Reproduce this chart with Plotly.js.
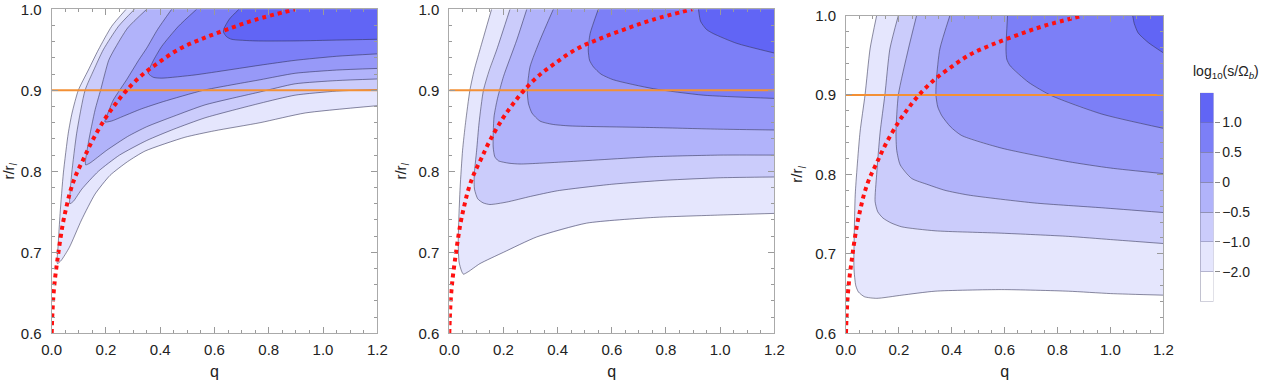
<!DOCTYPE html>
<html><head><meta charset="utf-8">
<script src="https://cdn.plot.ly/plotly-3.0.1.min.js"></script>
<style>html,body{margin:0;padding:0;background:#fff}#chart{width:1270px;height:385px}</style>
</head><body><div id="chart"></div>
<script>
// contour levels and band colours (white below lowest level)
const levels = [-2.0, -1.0, -0.5, 0, 0.5, 1.0];
const levelLabels = ['\u22122.0', '\u22121.0', '\u22120.5', '0', '0.5', '1.0'];
const bandColors = ['#ffffff', '#e5e6fd', '#cbccfb', '#b1b3fa', '#9799f8', '#7c7ff7', '#6165f5'];

// Panel 1 contour lines, points [q, r] from top edge to right edge
const p1_m20 = [[0.274,1.0],[0.221,0.979],[0.172,0.95],[0.135,0.925],[0.098,0.9],[0.075,0.872],[0.061,0.847],[0.043,0.798],[0.031,0.748],[0.024,0.71],[0.021,0.686],[0.035,0.69],[0.065,0.706],[0.11,0.74],[0.16,0.772],[0.215,0.795],[0.28,0.812],[0.344,0.825],[0.491,0.842],[0.6,0.85],[0.768,0.86],[0.934,0.872],[1.2,0.881]];
const p1_m10 = [[0.305,1.0],[0.246,0.979],[0.19,0.95],[0.155,0.925],[0.123,0.9],[0.092,0.847],[0.074,0.798],[0.068,0.775],[0.067,0.76],[0.08,0.763],[0.111,0.778],[0.172,0.8],[0.25,0.82],[0.35,0.838],[0.45,0.852],[0.565,0.866],[0.768,0.884],[0.897,0.894],[1.05,0.899],[1.2,0.901]];
const p1_m05 = [[0.35,1.0],[0.28,0.977],[0.23,0.95],[0.21,0.937],[0.18,0.9],[0.16,0.876],[0.135,0.835],[0.125,0.808],[0.14,0.81],[0.203,0.826],[0.28,0.843],[0.35,0.855],[0.45,0.868],[0.565,0.882],[0.768,0.898],[0.897,0.908],[1.05,0.912],[1.2,0.914]];
const p1_p00 = [[0.442,1.0],[0.39,0.975],[0.35,0.952],[0.32,0.937],[0.276,0.913],[0.25,0.9],[0.227,0.888],[0.205,0.87],[0.196,0.861],[0.22,0.862],[0.264,0.868],[0.33,0.877],[0.411,0.886],[0.559,0.9],[0.768,0.913],[0.897,0.921],[1.05,0.925],[1.2,0.927]];
const p1_p05 = [[0.534,1.0],[0.467,0.979],[0.405,0.954],[0.372,0.935],[0.356,0.921],[0.375,0.916],[0.405,0.915],[0.528,0.919],[0.65,0.925],[0.768,0.931],[0.897,0.937],[1.05,0.942],[1.2,0.945]];
const p1_p10 = [[0.69,1.0],[0.655,0.988],[0.636,0.977],[0.633,0.972],[0.645,0.966],[0.663,0.963],[0.75,0.961],[0.9,0.961],[1.05,0.962],[1.2,0.963]];

// Panel 2
const p2_m20 = [[0.156,1.0],[0.113,0.95],[0.092,0.925],[0.076,0.9],[0.06,0.86],[0.049,0.826],[0.04,0.78],[0.035,0.74],[0.033,0.71],[0.036,0.688],[0.045,0.677],[0.052,0.673],[0.07,0.676],[0.113,0.686],[0.2,0.7],[0.323,0.719],[0.507,0.736],[0.753,0.743],[1.0,0.746],[1.2,0.748]];
const p2_m10 = [[0.224,1.0],[0.175,0.95],[0.148,0.925],[0.126,0.9],[0.11,0.86],[0.101,0.826],[0.092,0.795],[0.093,0.778],[0.105,0.766],[0.125,0.761],[0.15,0.759],[0.212,0.762],[0.3,0.769],[0.4,0.776],[0.6,0.784],[0.8,0.789],[1.0,0.792],[1.2,0.793]];
const p2_m05 = [[0.286,1.0],[0.249,0.962],[0.2,0.917],[0.178,0.89],[0.165,0.867],[0.162,0.83],[0.168,0.818],[0.181,0.813],[0.22,0.81],[0.261,0.809],[0.446,0.812],[0.753,0.818],[1.0,0.82],[1.2,0.82]];
const p2_p00 = [[0.384,1.0],[0.335,0.962],[0.298,0.929],[0.288,0.9],[0.292,0.884],[0.305,0.872],[0.335,0.862],[0.38,0.858],[0.446,0.856],[0.753,0.854],[1.0,0.852],[1.2,0.851]];
const p2_p05 = [[0.55,1.0],[0.52,0.97],[0.513,0.95],[0.518,0.937],[0.532,0.929],[0.56,0.92],[0.606,0.913],[0.753,0.902],[0.938,0.894],[1.2,0.89]];
const p2_p10 = [[0.92,1.0],[0.928,0.985],[0.95,0.975],[0.975,0.97],[1.061,0.958],[1.2,0.946]];

// Panel 3
const p3_m20 = [[0.116,1.0],[0.091,0.958],[0.072,0.9],[0.053,0.853],[0.035,0.775],[0.031,0.72],[0.03,0.682],[0.037,0.66],[0.047,0.652],[0.07,0.646],[0.116,0.644],[0.211,0.648],[0.337,0.653],[0.589,0.655],[0.841,0.653],[1.0,0.65],[1.2,0.648]];
const p3_m10 = [[0.198,1.0],[0.166,0.958],[0.147,0.9],[0.129,0.853],[0.116,0.8],[0.11,0.766],[0.12,0.753],[0.14,0.745],[0.17,0.739],[0.211,0.734],[0.337,0.729],[0.589,0.726],[0.841,0.722],[1.0,0.718],[1.2,0.713]];
const p3_m05 = [[0.267,1.0],[0.236,0.958],[0.198,0.9],[0.189,0.853],[0.192,0.83],[0.205,0.812],[0.248,0.795],[0.311,0.787],[0.374,0.78],[0.463,0.774],[0.714,0.764],[0.967,0.758],[1.2,0.752]];
const p3_p00 = [[0.393,1.0],[0.355,0.958],[0.342,0.92],[0.34,0.9],[0.347,0.885],[0.362,0.874],[0.395,0.86],[0.437,0.849],[0.589,0.833],[0.841,0.816],[1.0,0.808],[1.2,0.801]];
const p3_p05 = [[0.611,1.0],[0.605,0.958],[0.608,0.945],[0.62,0.937],[0.69,0.916],[0.778,0.899],[0.967,0.876],[1.2,0.858]];
const p3_p10 = [[1.084,1.0],[1.09,0.99],[1.105,0.978],[1.143,0.966],[1.2,0.953]];

// red dotted curve (same in all panels)
const redQ = [0,0.002,0.006,0.012,0.02,0.03,0.042,0.055,0.07,0.09,0.117,0.15,0.197,0.235,0.276,0.33,0.393,0.47,0.55,0.645,0.75,0.897];
const redR = [0.6,0.62,0.645,0.667,0.688,0.712,0.737,0.757,0.777,0.796,0.815,0.838,0.865,0.883,0.9,0.918,0.934,0.951,0.963,0.975,0.987,1.0];
// orange reference line
const refR = 0.9;

const qRange = [0, 1.2];
const rRange = [0.6, 1.0];

const panels = [
  [p1_m20, p1_m10, p1_m05, p1_p00, p1_p05, p1_p10],
  [p2_m20, p2_m10, p2_m05, p2_p00, p2_p05, p2_p10],
  [p3_m20, p3_m10, p3_m05, p3_p00, p3_p05, p3_p10]
];

const traces = [];
const font = 'Liberation Sans, Arial, sans-serif';
panels.forEach((curves, i) => {
  const xa = 'x' + (i === 0 ? '' : i + 1);
  const ya = 'y' + (i === 0 ? '' : i + 1);
  // filled regions (value above each level), closed through the top-right corner
  curves.forEach((c, j) => {
    traces.push({
      type: 'scatter', mode: 'lines', xaxis: xa, yaxis: ya,
      x: c.map(p => p[0]).concat([qRange[1]]),
      y: c.map(p => p[1]).concat([rRange[1]]),
      fill: 'toself', fillcolor: bandColors[j + 1],
      line: {width: 0}, hoverinfo: 'skip', showlegend: false
    });
  });
  // contour lines
  curves.forEach((c, j) => {
    traces.push({
      type: 'scatter', mode: 'lines', xaxis: xa, yaxis: ya,
      x: c.map(p => p[0]), y: c.map(p => p[1]),
      line: {width: 1, color: 'rgba(45,45,80,0.55)', shape: 'spline', smoothing: 0.6},
      hoverinfo: 'skip', showlegend: false
    });
  });
  traces.push({
    type: 'scatter', mode: 'lines', xaxis: xa, yaxis: ya,
    x: qRange, y: [refR, refR],
    line: {width: 2, color: '#f39035'}, hoverinfo: 'skip', showlegend: false
  });
  traces.push({
    type: 'scatter', mode: 'lines', xaxis: xa, yaxis: ya,
    x: redQ, y: redR,
    line: {width: 4, color: '#ff1010', dash: 'dot', shape: 'spline'}, hoverinfo: 'skip', showlegend: false
  });
});

// colour bar as stacked bar on its own axes
bandColors.forEach((col, k) => {
  traces.push({
    type: 'bar', xaxis: 'x4', yaxis: 'y4', x: [0], y: [1], width: 1,
    marker: {color: col, line: {width: 1, color: 'rgba(120,120,150,0.45)'}},
    hoverinfo: 'skip', showlegend: false
  });
});

function xAxis(domain, anchor) {
  return {
    domain: domain, anchor: anchor, range: qRange, tick0: 0, dtick: 0.2, tickformat: '.1f',
    ticks: 'inside', ticklen: 6, tickcolor: '#9a9a9a', showline: true, linecolor: '#aaaaaa', linewidth: 1,
    mirror: 'allticks', showgrid: false, zeroline: false,
    minor: {dtick: 0.05, ticks: 'inside', ticklen: 3, tickcolor: '#9a9a9a'},
    tickfont: {family: font, size: 15, color: '#222'}, ticklabelstandoff: 3,
    title: {text: 'q', font: {family: font, size: 16, color: '#222'}, standoff: 8}
  };
}
function yAxis(domain, anchor) {
  return {
    domain: domain, anchor: anchor, range: rRange, tick0: 0.6, dtick: 0.1, tickformat: '.1f',
    ticks: 'inside', ticklen: 6, tickcolor: '#9a9a9a', showline: true, linecolor: '#aaaaaa', linewidth: 1,
    mirror: 'allticks', showgrid: false, zeroline: false,
    minor: {dtick: 0.02, ticks: 'inside', ticklen: 3, tickcolor: '#9a9a9a'},
    tickfont: {family: font, size: 15, color: '#222'}, ticklabelstandoff: 6,
    title: {text: 'r/r<sub><i>l</i></sub>', font: {family: font, size: 15, color: '#222'}, standoff: 8}
  };
}

const W = 1270, H = 385;
const fx = px => px / W;
const fy = py => (H - py) / H;

const layout = {
  width: W, height: H, margin: {l: 0, r: 0, t: 0, b: 0},
  paper_bgcolor: '#fff', plot_bgcolor: '#fff', showlegend: false, barmode: 'stack',
  xaxis: xAxis([fx(51.7), fx(377.3)], 'y'),
  yaxis: yAxis([fy(333.3), fy(9.3)], 'x'),
  xaxis2: xAxis([fx(449.3), fx(774.3)], 'y2'),
  yaxis2: yAxis([fy(333.3), fy(9.3)], 'x2'),
  xaxis3: xAxis([fx(846), fx(1163.3)], 'y3'),
  yaxis3: yAxis([fy(333.3), fy(15.5)], 'x3'),
  xaxis4: {domain: [fx(1200), fx(1213.5)], anchor: 'y4', range: [-0.5, 0.5], visible: false, fixedrange: true},
  yaxis4: {domain: [fy(301.7), fy(92.7)], anchor: 'x4', side: 'right', range: [0, bandColors.length],
    tickvals: levels.map((v, k) => k + 1), ticktext: levelLabels, ticks: 'outside', ticklen: 5,
    tickcolor: '#888', showline: false, showgrid: false, zeroline: false,
    tickfont: {family: font, size: 14, color: '#222'}},
  annotations: [{
    text: 'log<sub>10</sub>(s/\u03a9<sub><i>b</i></sub>)', xref: 'paper', yref: 'paper',
    x: fx(1226), y: fy(72), showarrow: false, xanchor: 'center', yanchor: 'middle',
    font: {family: font, size: 14, color: '#222'}
  }]
};

Plotly.newPlot('chart', traces, layout, {staticPlot: true, displayModeBar: false});
</script>
</body></html>
